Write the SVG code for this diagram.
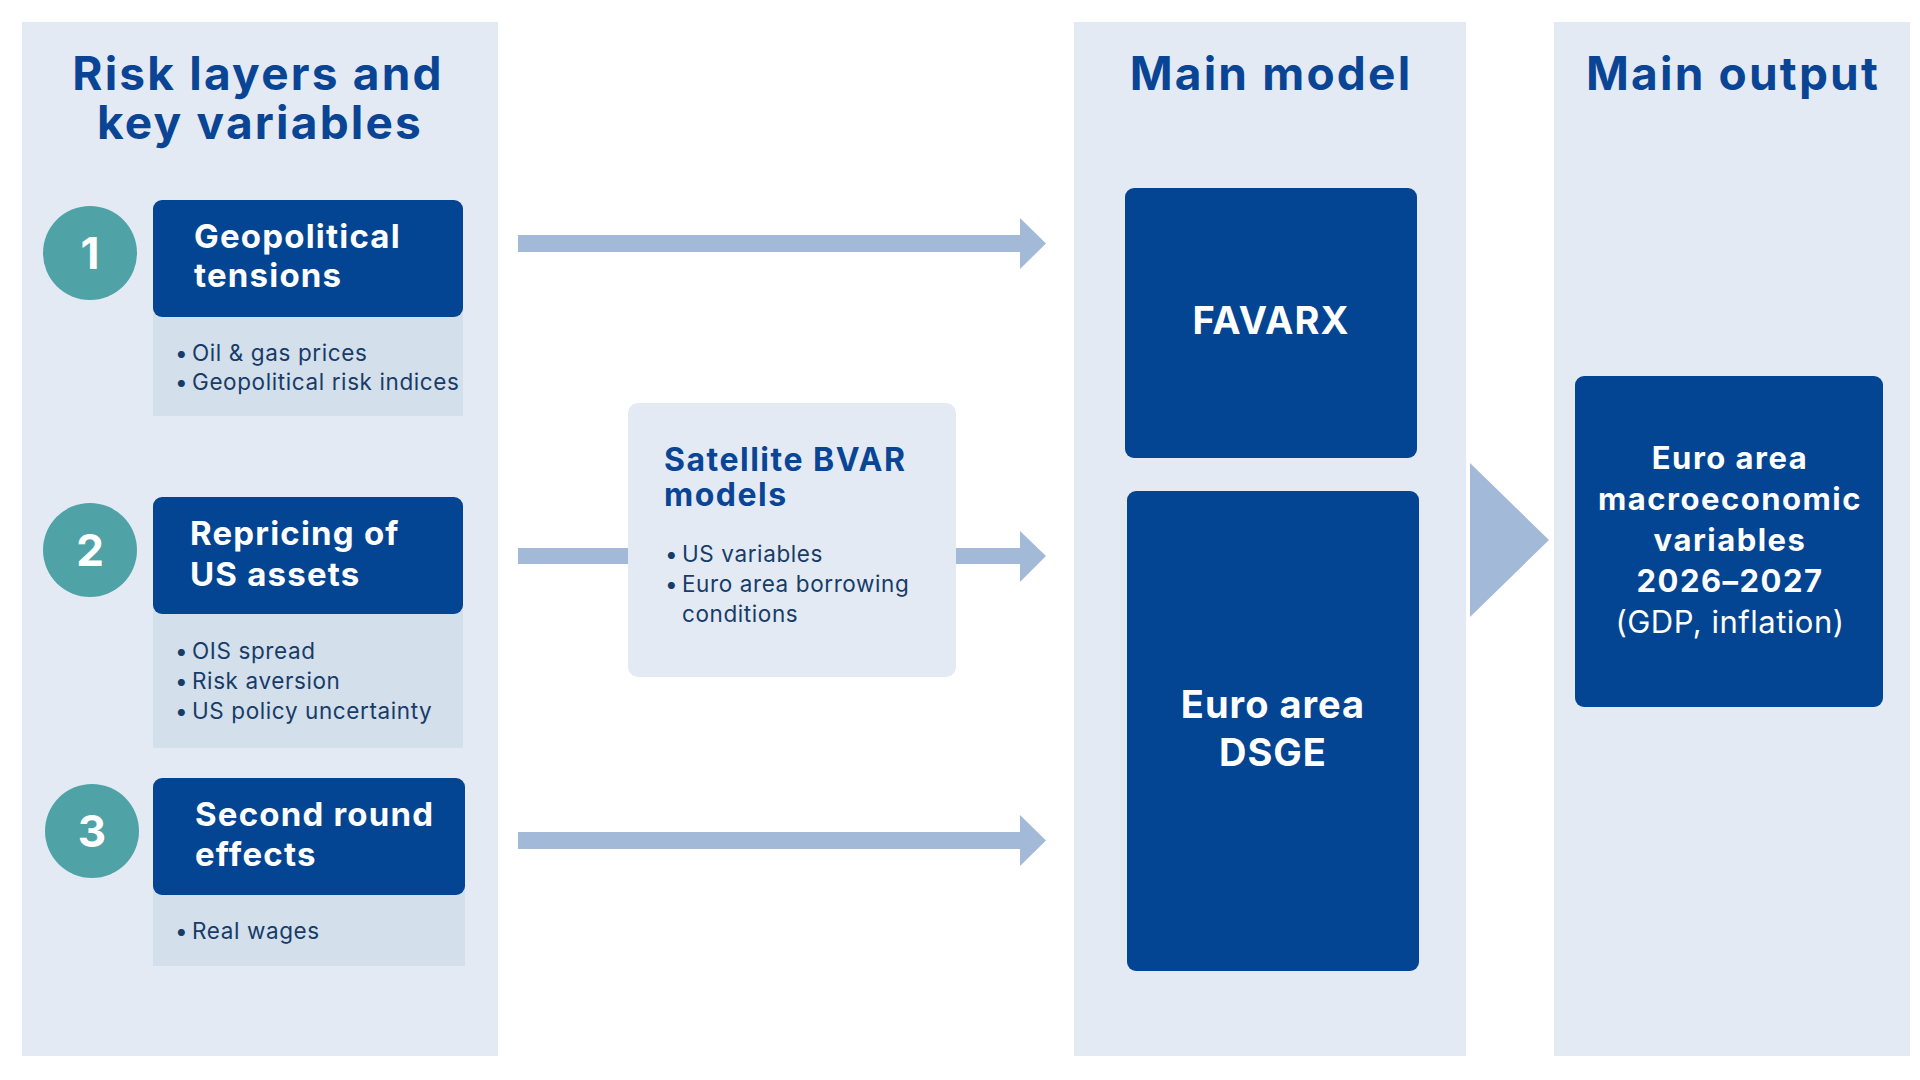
<svg xmlns="http://www.w3.org/2000/svg" width="1920" height="1080" viewBox="0 0 1920 1080">
<style>
.panel{fill:#E3EAF4}
.dark{fill:#034592}
.sub{fill:#D4DFEC}
.circ{fill:#4FA2A6}
.arrow{fill:#A2BAD8}
.ptitle{font-family:Inter,"Liberation Sans",sans-serif;font-weight:700;font-size:46px;letter-spacing:2.2px;fill:#0A4595;text-anchor:middle}
.num{font-family:Inter,"Liberation Sans",sans-serif;font-weight:700;font-size:44px;fill:#ffffff;text-anchor:middle}
.btitle{font-family:Inter,"Liberation Sans",sans-serif;font-weight:700;font-size:33px;letter-spacing:1.2px;fill:#ffffff}
.bul{font-family:Inter,"Liberation Sans",sans-serif;font-weight:400;font-size:22.5px;letter-spacing:0.6px;fill:#173C68}
.sat{font-family:Inter,"Liberation Sans",sans-serif;font-weight:700;font-size:32px;letter-spacing:1.5px;fill:#0A4595}
.mtext{font-family:Inter,"Liberation Sans",sans-serif;font-weight:700;font-size:38px;letter-spacing:1px;fill:#ffffff;text-anchor:middle}
.otext{font-family:Inter,"Liberation Sans",sans-serif;font-weight:700;font-size:31px;letter-spacing:1.5px;fill:#ffffff;text-anchor:middle}
.otext2{font-family:Inter,"Liberation Sans",sans-serif;font-weight:400;font-size:31px;letter-spacing:0.5px;fill:#ffffff;text-anchor:middle}
</style>
<rect width="1920" height="1080" fill="#ffffff"/>
<g id="panels">
<rect class="panel" x="22" y="22" width="476" height="1034"/>
<rect class="panel" x="1074" y="22" width="392" height="1034"/>
<rect class="panel" x="1554" y="22" width="356" height="1034"/>
<text class="ptitle" x="258" y="90">Risk layers and</text>
<text class="ptitle" x="260" y="139">key variables</text>
<text class="ptitle" x="1271" y="90">Main model</text>
<text class="ptitle" x="1733" y="90">Main output</text>
</g>
<g id="connectors">
<path class="arrow" d="M518 235 H1020 V218 L1046 243.5 L1020 269 V252 H518 Z"/>
<path class="arrow" d="M518 548 H628 V564 H518 Z"/>
<path class="arrow" d="M956 548 H1020 V531 L1046 556 L1020 582 V564 H956 Z"/>
<path class="arrow" d="M518 832 H1020 V815 L1046 840.5 L1020 866 V849 H518 Z"/>
<path class="arrow" d="M1470 463 L1549 540 L1470 617 Z"/>
</g>
<g id="layer1">
<circle class="circ" cx="90" cy="253" r="47"/>
<text class="num" x="90" y="269">1</text>
<rect class="sub" x="153" y="300" width="310" height="116"/>
<rect class="dark" x="153" y="200" width="310" height="117" rx="9"/>
<text class="btitle" x="194" y="248">Geopolitical</text>
<text class="btitle" x="194" y="287">tensions</text>
<text class="bul" x="175" y="361">•</text><text class="bul" x="192" y="361">Oil &amp; gas prices</text>
<text class="bul" x="175" y="390">•</text><text class="bul" x="192" y="390">Geopolitical risk indices</text>
</g>
<g id="layer2">
<circle class="circ" cx="90" cy="550" r="47"/>
<text class="num" x="90" y="566">2</text>
<rect class="sub" x="153" y="600" width="310" height="148"/>
<rect class="dark" x="153" y="497" width="310" height="117" rx="9"/>
<text class="btitle" x="190" y="545">Repricing of</text>
<text class="btitle" x="190" y="586">US assets</text>
<text class="bul" x="175" y="659">•</text><text class="bul" x="192" y="659">OIS spread</text>
<text class="bul" x="175" y="689">•</text><text class="bul" x="192" y="689">Risk aversion</text>
<text class="bul" x="175" y="719">•</text><text class="bul" x="192" y="719">US policy uncertainty</text>
</g>
<g id="layer3">
<circle class="circ" cx="92" cy="831" r="47"/>
<text class="num" x="92" y="847">3</text>
<rect class="sub" x="153" y="880" width="312" height="86"/>
<rect class="dark" x="153" y="778" width="312" height="117" rx="9"/>
<text class="btitle" x="195" y="826">Second round</text>
<text class="btitle" x="195" y="866">effects</text>
<text class="bul" x="175" y="939">•</text><text class="bul" x="192" y="939">Real wages</text>
</g>
<g id="satellite">
<rect class="panel" x="628" y="403" width="328" height="274" rx="10"/>
<text class="sat" x="664" y="471">Satellite BVAR</text>
<text class="sat" x="664" y="506">models</text>
<text class="bul" x="665" y="562">•</text><text class="bul" x="682" y="562">US variables</text>
<text class="bul" x="665" y="592">•</text><text class="bul" x="682" y="592">Euro area borrowing</text>
<text class="bul" x="682" y="622">conditions</text>
</g>
<g id="favarx">
<rect class="dark" x="1125" y="188" width="292" height="270" rx="9"/>
<text class="mtext" x="1271" y="334">FAVARX</text>
</g>
<g id="dsge">
<rect class="dark" x="1127" y="491" width="292" height="480" rx="9"/>
<text class="mtext" x="1273" y="718">Euro area</text>
<text class="mtext" x="1273" y="766">DSGE</text>
</g>
<g id="output">
<rect class="dark" x="1575" y="376" width="308" height="331" rx="9"/>
<text class="otext" x="1730" y="469">Euro area</text>
<text class="otext" x="1730" y="510">macroeconomic</text>
<text class="otext" x="1730" y="551">variables</text>
<text class="otext" x="1730" y="592">2026–2027</text>
<text class="otext2" x="1730" y="633">(GDP, inflation)</text>
</g>
</svg>
